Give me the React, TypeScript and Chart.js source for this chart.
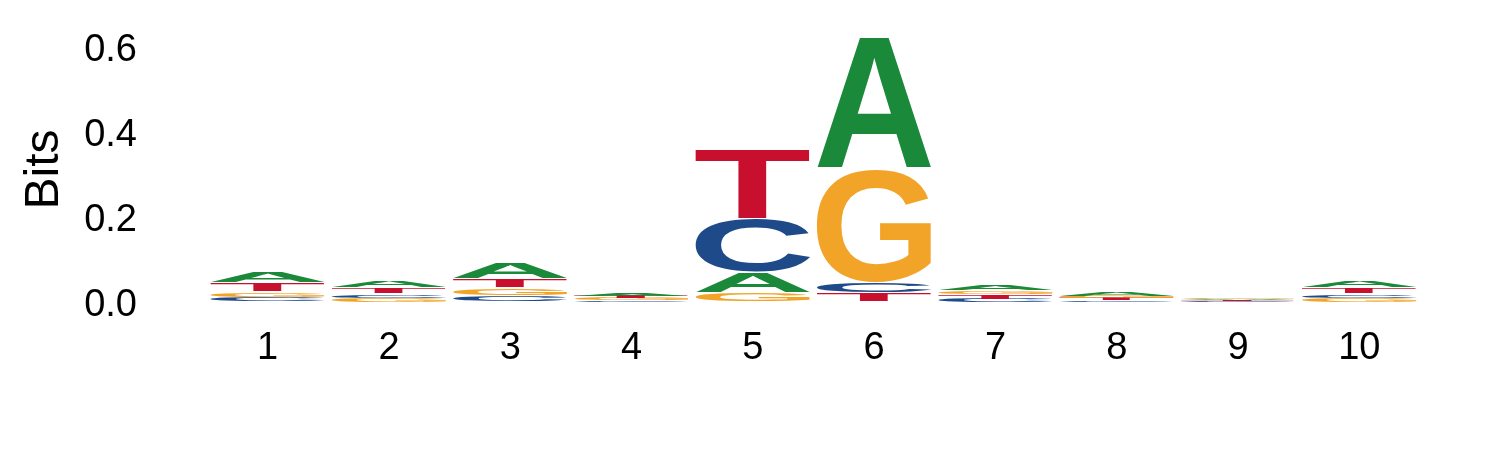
import React, { useEffect, useRef } from "react";
import { Chart, registerables } from "chart.js";

Chart.register(...registerables);

// ---- data (information content in bits per letter, per position) ----
const positions = ["1", "2", "3", "4", "5", "6", "7", "8", "9", "10"];
const letters = ["A", "C", "G", "T"];
const heightA = [0.028, 0.017, 0.039, 0.006, 0.048, 0.309, 0.015, 0.008, 0.0025, 0.018];
const heightC = [0.011, 0.010, 0.015, 0.004, 0.128, 0.025, 0.008, 0.004, 0.002, 0.010];
const heightG = [0.013, 0.009, 0.018, 0.005, 0.021, 0.266, 0.010, 0.006, 0.003, 0.009];
const heightT = [0.021, 0.014, 0.021, 0.0055, 0.164, 0.022, 0.009, 0.005, 0.0022, 0.015];
const yTickValues = [0, 0.2, 0.4, 0.6];
const yMax = 0.623;

const letterColors: Record<string, string> = {
  A: "#1a8a3a",
  C: "#1f4a8a",
  G: "#f2a428",
  T: "#c8102e",
};

const FONT = "'Liberation Sans', Arial, Helvetica, sans-serif";

function buildRankDatasets() {
  const table: Record<string, number[]> = { A: heightA, C: heightC, G: heightG, T: heightT };
  const ranks: { data: number[]; letters: string[] }[] = letters.map(() => ({ data: [], letters: [] }));
  positions.forEach((_, i) => {
    const sorted = letters
      .map((l) => ({ l, v: table[l][i] }))
      .sort((a, b) => a.v - b.v);
    sorted.forEach((s, r) => {
      ranks[r].data.push(s.v);
      ranks[r].letters.push(s.l);
    });
  });
  return ranks.map((r, idx) => ({
    label: "rank" + idx,
    data: r.data,
    letters: r.letters,
    backgroundColor: "rgba(0,0,0,0)",
    borderWidth: 0,
    barPercentage: 1,
    categoryPercentage: 0.945,
  }));
}

const glyphCache: Record<string, { left: number; right: number; ascent: number; descent: number }> = {};
const GLYPH_FONT = "bold 200px " + FONT;

function glyphMetrics(ctx: CanvasRenderingContext2D, ch: string) {
  if (glyphCache[ch]) return glyphCache[ch];
  ctx.save();
  ctx.font = GLYPH_FONT;
  ctx.textAlign = "left";
  ctx.textBaseline = "alphabetic";
  const m = ctx.measureText(ch);
  ctx.restore();
  const g = {
    left: m.actualBoundingBoxLeft,
    right: m.actualBoundingBoxRight,
    ascent: m.actualBoundingBoxAscent,
    descent: m.actualBoundingBoxDescent,
  };
  glyphCache[ch] = g;
  return g;
}

const logoPlugin = {
  id: "logoLetters",
  afterDatasetsDraw(chart: any) {
    const ctx: CanvasRenderingContext2D = chart.ctx;
    chart.data.datasets.forEach((ds: any, di: number) => {
      const meta = chart.getDatasetMeta(di);
      meta.data.forEach((el: any, i: number) => {
        const ch = ds.letters[i];
        const p = el.getProps(["x", "y", "base", "width"], true);
        const top0 = Math.min(p.y, p.base);
        const bot0 = Math.max(p.y, p.base);
        let h = bot0 - top0;
        if (h <= 0.05) return;
        const inset = h > 4 ? 0.6 : 0;
        const top = top0 + inset;
        h = h - 2 * inset;
        const left = p.x - p.width / 2;
        const w = p.width;
        const g = glyphMetrics(ctx, ch);
        const sx = w / (g.left + g.right);
        const sy = h / (g.ascent + g.descent);
        ctx.save();
        ctx.translate(left + g.left * sx, top + g.ascent * sy);
        ctx.scale(sx, sy);
        ctx.font = GLYPH_FONT;
        ctx.textAlign = "left";
        ctx.textBaseline = "alphabetic";
        ctx.fillStyle = letterColors[ch];
        ctx.fillText(ch, 0, 0);
        ctx.restore();
      });
    });
  },
};

export default function App() {
  const canvasRef = useRef<HTMLCanvasElement | null>(null);

  useEffect(() => {
    if (!canvasRef.current) return;
    Chart.defaults.font.family = FONT;
    const chart = new Chart(canvasRef.current, {
      type: "bar",
      data: {
        labels: positions,
        datasets: buildRankDatasets() as any,
      },
      options: {
        animation: false,
        responsive: true,
        maintainAspectRatio: false,
        layout: { padding: { top: 37, right: 80, left: 0, bottom: 0 } },
        plugins: {
          legend: { display: false },
          tooltip: { enabled: false },
        },
        scales: {
          x: {
            stacked: true,
            grid: { display: false, drawTicks: false },
            border: { display: false },
            ticks: {
              color: "#000",
              font: { size: 38, family: FONT },
              padding: 24,
              maxRotation: 0,
              autoSkip: false,
            },
            afterFit: (s: any) => {
              s.height = 148;
            },
          },
          y: {
            stacked: true,
            min: 0,
            max: yMax,
            grid: { display: false, drawTicks: true, tickLength: 70 },
            border: { display: false },
            afterBuildTicks: (s: any) => {
              s.ticks = yTickValues.map((v) => ({ value: v }));
            },
            ticks: {
              color: "#000",
              font: { size: 38, family: FONT },
              padding: 0,
              labelOffset: 4,
              callback: (v: any) => Number(v).toFixed(1),
            },
            title: {
              display: true,
              text: "Bits",
              color: "#000",
              font: { size: 48, family: FONT },
              padding: { top: 16, bottom: 0 },
            },
            afterFit: (s: any) => {
              s.width = 207;
            },
          },
        },
      },
      plugins: [logoPlugin],
    });
    return () => chart.destroy();
  }, []);

  return (
    <div style={{ position: "absolute", left: 0, top: 0, width: 1500, height: 450, background: "#fff" }}>
      <canvas ref={canvasRef} />
    </div>
  );
}
